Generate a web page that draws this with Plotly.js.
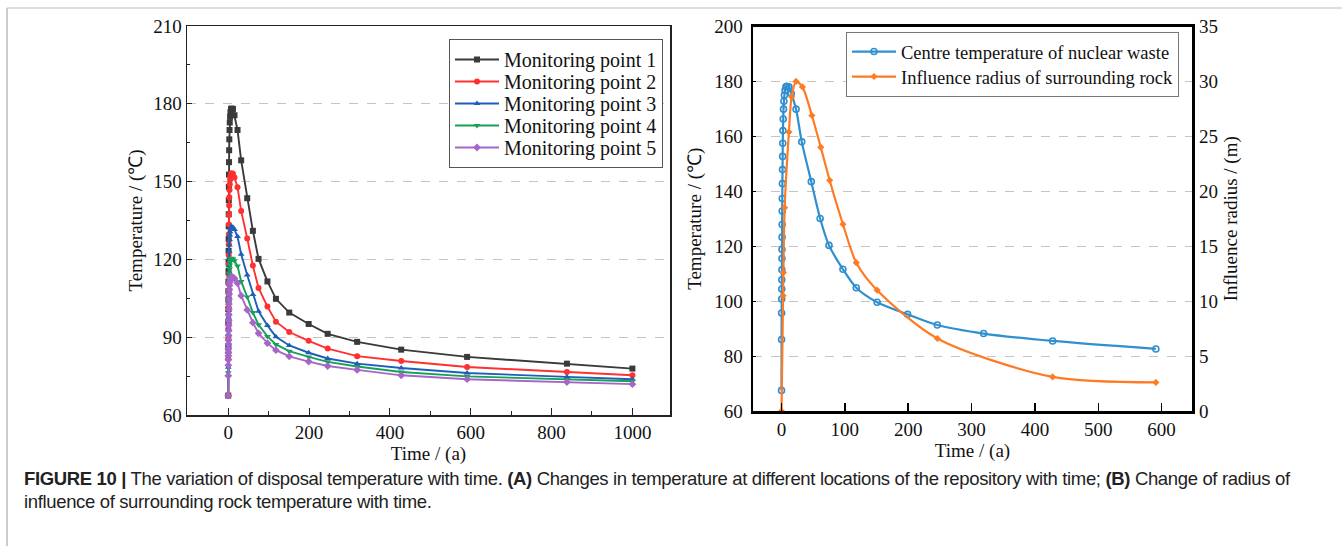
<!DOCTYPE html>
<html>
<head>
<meta charset="utf-8">
<script src="https://cdn.plot.ly/plotly-3.0.1.min.js"></script>
<style>
  html, body { margin: 0; padding: 0; background: #fff; }
  #chart { width: 1342px; height: 546px; }
  text.annotation-text { letter-spacing: -0.35px; }
</style>
</head>
<body>
<div id="chart"></div>
<script>
// ---------- Data (A): temperature at monitoring points ----------
const timeA = [0, 0.1, 0.2, 0.3, 0.4, 0.5, 0.6, 0.7, 0.8, 0.9, 1.0, 1.1, 1.2, 1.4, 1.6, 1.8, 2.0, 2.3, 2.7, 3.2, 3.8, 4.6, 5.6, 7.0, 8.5, 11.7, 15.5, 23, 32, 47, 61, 75, 97, 118, 151, 199, 246, 319, 428, 591, 838, 1000];
const point1 = [67.5, 86.0, 95.7, 100.8, 104.4, 107.8, 111.4, 115.5, 118.9, 123.3, 127.9, 132.8, 137.4, 142.8, 147.9, 152.7, 157.5, 162.1, 166.3, 169.9, 172.8, 175.0, 176.8, 178.0, 178.2, 178.0, 175.6, 169.9, 158.2, 143.6, 131.0, 120.2, 111.5, 104.8, 99.5, 95.1, 91.3, 88.2, 85.2, 82.4, 79.8, 77.9];
const point2 = [67.5, 81.8, 89.4, 93.3, 96.0, 98.7, 101.5, 104.7, 107.3, 110.7, 114.3, 118.1, 121.6, 125.8, 129.7, 133.5, 137.2, 140.8, 144.0, 146.8, 149.0, 150.7, 152.1, 153.0, 153.2, 153.0, 151.6, 147.8, 138.7, 128.1, 117.6, 109.0, 101.8, 96.0, 92.0, 88.6, 85.6, 82.7, 80.8, 78.5, 76.6, 75.3];
const point3 = [67.5, 78.4, 84.1, 87.1, 89.2, 91.2, 93.3, 95.8, 97.7, 100.3, 103.0, 105.9, 108.6, 111.8, 114.8, 117.6, 120.4, 123.2, 125.6, 127.7, 129.4, 130.7, 131.8, 132.5, 132.6, 132.4, 131.5, 128.8, 122.0, 114.0, 106.5, 100.0, 94.5, 90.2, 86.8, 84.0, 81.8, 79.8, 78.1, 76.2, 74.7, 73.8];
const point4 = [67.5, 76.3, 81.0, 83.4, 85.1, 86.8, 88.5, 90.5, 92.0, 94.2, 96.4, 98.7, 100.9, 103.5, 105.9, 108.2, 110.5, 112.7, 114.7, 116.4, 117.8, 118.9, 119.7, 120.3, 120.4, 120.2, 119.5, 117.5, 111.5, 105.5, 99.5, 94.8, 90.3, 87.2, 84.6, 82.4, 80.5, 78.7, 76.6, 74.9, 73.7, 73.0];
const point5 = [67.5, 75.1, 79.2, 81.3, 82.8, 84.2, 85.7, 87.4, 88.8, 90.6, 92.5, 94.5, 96.4, 98.6, 100.8, 102.8, 104.7, 106.7, 108.4, 109.9, 111.1, 112.0, 112.7, 113.2, 113.3, 113.2, 112.6, 110.8, 106.0, 100.5, 95.6, 91.5, 87.7, 85.0, 82.6, 80.6, 78.9, 77.4, 75.3, 73.8, 72.7, 71.9];
const seriesNamesA = ["Monitoring point 1", "Monitoring point 2", "Monitoring point 3", "Monitoring point 4", "Monitoring point 5"];

// ---------- Data (B): centre temperature and influence radius ----------
const timeCentre = [0, 0.1, 0.2, 0.3, 0.4, 0.5, 0.6, 0.7, 0.8, 0.9, 1.0, 1.1, 1.2, 1.4, 1.6, 1.8, 2.0, 2.3, 2.7, 3.2, 3.8, 4.6, 5.6, 7.0, 8.5, 11.7, 15.5, 23, 32, 47, 61, 75, 97, 118, 151, 199, 246, 319, 428, 591];
const centreTemp = [67.5, 86.0, 95.7, 100.8, 104.4, 107.8, 111.4, 115.5, 118.9, 123.3, 127.9, 132.8, 137.4, 142.8, 147.9, 152.7, 157.5, 162.1, 166.3, 169.9, 172.8, 175.0, 176.8, 178.0, 178.2, 178.0, 175.6, 169.9, 158.0, 143.5, 130.1, 120.3, 111.6, 104.9, 99.6, 95.2, 91.3, 88.2, 85.5, 82.6];
const timeRadius = [0, 2.5, 3, 5, 11.7, 16, 23, 33, 48, 62, 76, 97, 118, 151, 246, 428, 591];
const radius = [0, 10.5, 12.6, 18.5, 25.4, 28.6, 30.0, 29.5, 26.9, 24.0, 21.0, 17.0, 13.5, 11.0, 6.6, 3.1, 2.6];
const seriesNamesB = ["Centre temperature of nuclear waste", "Influence radius of surrounding rock"];

const captionLine1 = "<b>FIGURE 10 |</b> The variation of disposal temperature with time. <b>(A)</b> Changes in temperature at different locations of the repository with time; <b>(B)</b> Change of radius of";
const captionLine2 = "influence of surrounding rock temperature with time.";

// ---------- Styles ----------
const W = 1342, H = 546;
const serif = "Liberation Serif, Times New Roman, serif";
const sans = "Liberation Sans, Arial, sans-serif";
const colorsA = ["#3a3a3a", "#ff3030", "#1c5fb8", "#17a058", "#a666c8"];
const symbolsA = ["square", "circle", "triangle-up", "triangle-down", "diamond"];
const seriesA = [point1, point2, point3, point4, point5];

const traces = seriesA.map((ys, i) => ({
  x: timeA, y: ys, name: seriesNamesA[i],
  type: "scatter", mode: "lines+markers",
  xaxis: "x", yaxis: "y", legend: "legend",
  line: { color: colorsA[i], width: 1.9 },
  marker: { color: colorsA[i], symbol: symbolsA[i], size: 6 }
}));

traces.push({
  x: timeCentre, y: centreTemp, name: seriesNamesB[0],
  type: "scatter", mode: "lines+markers",
  xaxis: "x2", yaxis: "y2", legend: "legend2",
  line: { color: "#2f8fd0", width: 2.2, shape: "spline", smoothing: 0.8 },
  marker: { color: "#2f8fd0", symbol: "circle-open", size: 6, line: { width: 1.6 } }
});
traces.push({
  x: timeRadius, y: radius, name: seriesNamesB[1],
  type: "scatter", mode: "lines+markers",
  xaxis: "x2", yaxis: "y3", legend: "legend2",
  line: { color: "#ff7a22", width: 2.2, shape: "spline", smoothing: 0.8 },
  marker: { color: "#ff7a22", symbol: "diamond", size: 5.5 }
});

const px = v => v / W;
const py = v => 1 - v / H;
const tickFont = { family: serif, size: 19, color: "#111" };
const titleFont = { family: serif, size: 19, color: "#111" };
const grid = { showgrid: true, gridcolor: "#c4c4c4", griddash: "dash", gridwidth: 1 };

const layout = {
  width: W, height: H,
  margin: { l: 0, r: 0, t: 0, b: 0 },
  paper_bgcolor: "#fff", plot_bgcolor: "#fff",
  showlegend: true,
  xaxis: {
    domain: [px(187), px(670)], range: [-102, 1093], anchor: "y",
    tickvals: [0, 200, 400, 600, 800, 1000], ticks: "inside", ticklen: 7, tickcolor: "#222",
    minor: { tickvals: [100, 300, 500, 700, 900], ticks: "inside", ticklen: 4, tickcolor: "#222" },
    showline: true, linecolor: "#222", linewidth: 1.5, mirror: true,
    showgrid: false, zeroline: false, tickfont: tickFont,
    title: { text: "Time / (a)", font: titleFont, standoff: 0 }
  },
  yaxis: Object.assign({
    domain: [py(415), py(26)], range: [60, 210], anchor: "x",
    tickvals: [60, 90, 120, 150, 180, 210], ticks: "inside", ticklen: 5, tickcolor: "#222",
    minor: { tickvals: [75, 105, 135, 165, 195], ticks: "inside", ticklen: 3, tickcolor: "#222" },
    showline: true, linecolor: "#222", linewidth: 1.5, mirror: true,
    zeroline: false, tickfont: tickFont,
    title: { text: "Temperature / (℃)", font: titleFont, standoff: 5 }
  }, grid),
  xaxis2: {
    domain: [px(753), px(1192)], range: [-45, 648], anchor: "y2",
    tickvals: [0, 100, 200, 300, 400, 500, 600], ticks: "inside", ticklen: 8, tickcolor: "#000", tickwidth: 1.5,
    showline: true, linecolor: "#000", linewidth: 2.5, mirror: true,
    showgrid: false, zeroline: false, tickfont: tickFont,
    title: { text: "Time / (a)", font: titleFont, standoff: 2 }
  },
  yaxis2: Object.assign({
    domain: [py(411), py(26.5)], range: [60, 200], anchor: "x2",
    tickvals: [60, 80, 100, 120, 140, 160, 180, 200], ticks: "inside", ticklen: 3, tickcolor: "#000",
    showline: true, linecolor: "#000", linewidth: 2.5, mirror: true,
    zeroline: false, tickfont: tickFont, ticklabelstandoff: 4,
    title: { text: "Temperature / (℃)", font: titleFont, standoff: 8 }
  }, grid),
  yaxis3: {
    overlaying: "y2", side: "right", anchor: "x2", range: [0, 35],
    tickvals: [0, 5, 10, 15, 20, 25, 30, 35], ticks: "", showgrid: false, zeroline: false,
    showline: false, tickfont: tickFont, ticklabelstandoff: 6,
    title: { text: "Influence radius / (m)", font: titleFont, standoff: 6 }
  },
  legend: {
    x: px(663), y: py(39), xanchor: "right", yanchor: "top",
    bgcolor: "#fff", bordercolor: "#555", borderwidth: 1,
    font: { family: serif, size: 20, color: "#111" }, tracegroupgap: 0, itemwidth: 44
  },
  legend2: {
    x: px(1179), y: py(32), xanchor: "right", yanchor: "top",
    bgcolor: "#fff", bordercolor: "#777", borderwidth: 1,
    font: { family: serif, size: 18.5, color: "#111" }, tracegroupgap: 0, itemwidth: 44
  },
  shapes: [
    { type: "line", xref: "paper", yref: "paper", x0: px(7), x1: px(7), y0: 0, y1: py(8), line: { color: "#9a9a9a", width: 1 } },
    { type: "line", xref: "paper", yref: "paper", x0: px(7), x1: 1, y0: py(8), y1: py(8), line: { color: "#bdbdbd", width: 1 } }
  ],
  annotations: [
    { text: captionLine1, xref: "paper", yref: "paper", x: px(22), y: py(478), xanchor: "left", yanchor: "middle", showarrow: false,
      font: { family: sans, size: 18.5, color: "#222" } },
    { text: captionLine2, xref: "paper", yref: "paper", x: px(22), y: py(501), xanchor: "left", yanchor: "middle", showarrow: false,
      font: { family: sans, size: 18.5, color: "#222" } }
  ]
};

// Reflow Plotly's own legend entries to the tighter line spacing of the reference
function tightenLegend(id, spacing) {
  const g = document.querySelector("g." + id);
  if (!g) return;
  const items = g.querySelectorAll("g.traces");
  if (items.length < 2) return;
  const parse = el => {
    const m = /translate\(\s*([-\d.eE]+)[ ,]+([-\d.eE]+)/.exec(el.getAttribute("transform") || "");
    return m ? [parseFloat(m[1]), parseFloat(m[2])] : [0, 0];
  };
  const p0 = parse(items[0]);
  const p1 = parse(items[1]);
  const old = p1[1] - p0[1];
  items.forEach((it, i) => {
    const p = parse(it);
    it.setAttribute("transform", "translate(" + p[0] + "," + (p0[1] + i * spacing) + ")");
  });
  const shrink = (old - spacing) * (items.length - 1);
  const bg = g.querySelector("rect.bg");
  if (bg) bg.setAttribute("height", parseFloat(bg.getAttribute("height")) - shrink);
}

Plotly.newPlot("chart", traces, layout, { displayModeBar: false, staticPlot: true }).then(() => {
  tightenLegend("legend", 22);
  tightenLegend("legend2", 25);
});
</script>
</body>
</html>
